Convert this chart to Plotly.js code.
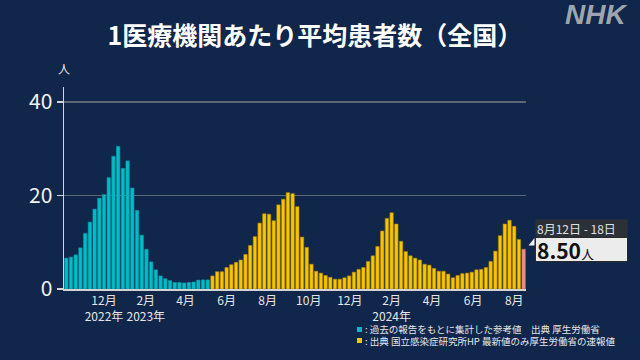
<!DOCTYPE html>
<html><head><meta charset="utf-8">
<script src="https://cdn.plot.ly/plotly-3.0.1.min.js"></script>
<style>html,body{margin:0;padding:0;background:#10264a;}#chart{width:640px;height:360px;}</style>
</head><body><div id="chart"></div>
<script>
// First week (Mon) of the series
const firstWeekStart = '2022-10-03';
// 過去の報告をもとに集計した参考値 (cyan), weekly
const referenceValues = [6.6, 6.8, 7.3, 8.8, 11.9, 14.3, 17.1, 19.4, 20.2, 23.8, 28.4, 30.5, 25.8, 27.4, 21.6, 16.8, 11.5, 8.5, 5.8, 4.1, 2.8, 2.2, 1.8, 1.4, 1.4, 1.3, 1.4, 1.5, 1.9, 1.95, 1.95];
// 国立感染症研究所 定点報告 (yellow), weekly
const sentinelValues = [2.8, 3.7, 3.7, 4.6, 5.2, 5.7, 6.2, 7.4, 9.3, 11.2, 14.1, 16.1, 16.0, 14.6, 18.0, 19.2, 20.6, 20.4, 17.6, 11.1, 8.9, 5.3, 3.8, 3.4, 2.9, 2.5, 2.1, 2.1, 2.4, 2.8, 3.6, 4.2, 4.6, 5.9, 7.1, 9.1, 12.4, 15.1, 16.3, 13.9, 10.2, 8.0, 7.1, 6.6, 6.2, 5.3, 5.1, 4.4, 3.8, 3.8, 3.2, 2.4, 2.9, 3.3, 3.4, 3.6, 4.1, 4.2, 4.6, 5.9, 8.1, 11.4, 13.9, 14.7, 13.4, 10.6];
// 最新値 (厚生労働省の速報値)
const latestValue = [8.50];
const latestLabel = '8月12日 - 18日';
const latestText = '8.50';
const tickDates = ['2022-12-01','2023-02-01','2023-04-01','2023-06-01','2023-08-01','2023-10-01','2023-12-01','2024-02-01','2024-04-01','2024-06-01','2024-08-01'];
const tickLabels = ['12月<br>2022年','2月<br>2023年','4月','6月','8月','10月','12月','2月<br>2024年','4月','6月','8月'];
const legendTexts = [': 過去の報告をもとに集計した参考値　出典 厚生労働省', ': 出典 国立感染症研究所HP 最新値のみ厚生労働省の速報値'];

const FONT = '"Noto Sans CJK JP", "Noto Sans", sans-serif';
const DAY = 86400000;
const allValues = referenceValues.concat(sentinelValues, latestValue);
const start = Date.parse(firstWeekStart + 'T00:00:00Z');
const xs = allValues.map((v, i) => new Date(start + (i * 7 + 3) * DAY).toISOString().slice(0, 10));
const fills = allValues.map((v, i) => i < referenceValues.length ? '#00bcc8' : (i < referenceValues.length + sentinelValues.length ? '#f7c600' : '#ef8f8c'));
const edges = allValues.map((v, i) => i < referenceValues.length ? '#0098a4' : (i < referenceValues.length + sentinelValues.length ? '#b08700' : '#c86c6a'));

const trace = {
  type: 'bar', x: xs, y: allValues,
  width: 0.72 * 7 * DAY,
  marker: {color: fills, line: {color: edges, width: 0.6}},
  hoverinfo: 'skip'
};

const L = 64, W = 462, T = 87, H = 202;
const px = x => (x - L) / W;
const py = y => (T + H - y) / H;

const layout = {
  width: 640, height: 360,
  paper_bgcolor: '#10264a', plot_bgcolor: '#10264a',
  margin: {l: L, r: 640 - L - W, t: T, b: 360 - T - H},
  showlegend: false,
  font: {family: FONT, color: '#e6e6e6'},
  title: {text: '1医療機関あたり平均患者数（全国）', x: 315/640, xanchor: 'center', y: 1 - 36/360, yanchor: 'middle',
          font: {family: FONT, size: 25, color: '#ffffff', weight: 700}},
  xaxis: {
    type: 'date', range: ['2022-10-02 14:00', '2024-08-18 12:00'],
    tickmode: 'array', tickvals: tickDates, ticktext: tickLabels, tickangle: 0,
    ticks: '', showgrid: false, zeroline: false,
    showline: true, linecolor: '#d4d4d4', linewidth: 2,
    tickfont: {family: FONT, size: 12, color: '#e6e6e6'},
    fixedrange: true
  },
  yaxis: {
    range: [0, 43.2], tickvals: [0, 20, 40], ticktext: ['0', '20', '40'],
    ticks: 'outside', ticklen: 6, tickcolor: '#d4d4d4', tickwidth: 1.5,
    showgrid: true, gridcolor: '#5d6778', gridwidth: 1.5,
    zeroline: false, showline: true, linecolor: '#d4d4d4', linewidth: 1.5,
    tickfont: {family: FONT, size: 21, color: '#f2f2f2'},
    fixedrange: true
  },
  shapes: [
    {type: 'rect', xref: 'paper', yref: 'paper', x0: px(357), x1: px(362), y0: py(332), y1: py(327), fillcolor: '#00bcc8', line: {width: 0}},
    {type: 'rect', xref: 'paper', yref: 'paper', x0: px(357), x1: px(362), y0: py(343), y1: py(338), fillcolor: '#f7c600', line: {width: 0}},
    {type: 'path', xref: 'paper', yref: 'paper', path: `M ${px(534.5)} ${py(238)} L ${px(534.5)} ${py(245.5)} L ${px(528.5)} ${py(245.5)} Z`, fillcolor: '#f0f0f0', line: {width: 0}}
  ],
  annotations: [
    {text: '人', xref: 'paper', yref: 'paper', x: px(64), y: py(69), xanchor: 'center', yanchor: 'middle', showarrow: false,
     font: {family: FONT, size: 12, color: '#e6e6e6'}},
    {text: '<b><i>NHK</i></b>', xref: 'paper', yref: 'paper', x: px(596), y: py(15), xanchor: 'center', yanchor: 'middle', showarrow: false,
     font: {family: '"Liberation Sans", Arial, sans-serif', size: 28, color: '#9ea5ae'}},
    {text: latestLabel, xref: 'paper', yref: 'paper', x: px(535), y: py(219), xanchor: 'left', yanchor: 'top', showarrow: false,
     width: 89, height: 15, align: 'left', bgcolor: '#2c3138', borderpad: 1,
     font: {family: FONT, size: 12, color: '#e0e0e0'}},
    {text: '<b>' + latestText + '</b><span style="font-size:13px">人</span>', xref: 'paper', yref: 'paper', x: px(535), y: py(237), xanchor: 'left', yanchor: 'top', showarrow: false,
     width: 89, height: 21, align: 'left', bgcolor: '#ececec', bordercolor: '#2a2a2a', borderwidth: 1, borderpad: 1,
     font: {family: FONT, size: 21, color: '#111111'}},
    {text: legendTexts.join('<br>'), xref: 'paper', yref: 'paper', x: px(362.5), y: py(335), xanchor: 'left', yanchor: 'middle', showarrow: false,
     align: 'left', font: {family: FONT, size: 9.5, color: '#e6e6e6'}}
  ]
};

Plotly.newPlot('chart', [trace], layout, {displayModeBar: false, staticPlot: true});
</script>
</body></html>
